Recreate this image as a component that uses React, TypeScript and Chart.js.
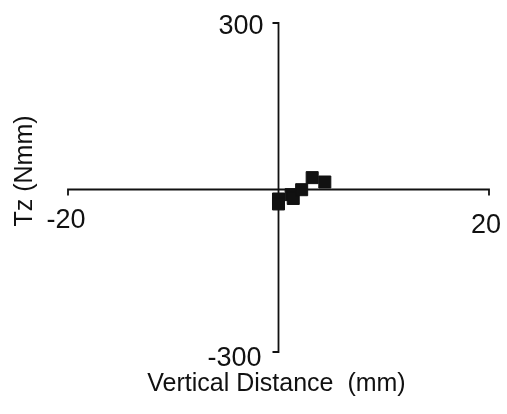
import React, { useEffect, useRef } from "react";
import { Chart, registerables } from "chart.js";

Chart.register(...registerables);

const xValues = [0, 0, 1.2, 1.4, 2.2, 3.2, 4.4];
const yValues = [-21, -30, -13, -20, -4, 18, 10];
const xRange = [-20, 20];
const yRange = [-300, 300];
const xTickLabels = ["-20", "20"];
const yTickLabels = ["-300", "300"];
const xTitle = "Vertical Distance  (mm)";
const yTitle = "Tz (Nmm)";

const FONT = '"Liberation Sans", Arial, sans-serif';

const axesPlugin = {
  id: "crossAxes",
  beforeDatasetsDraw(chart: any) {
    const { ctx, scales } = chart;
    const xs = scales.x;
    const ys = scales.y;
    const x0 = xs.getPixelForValue(0);
    const y0 = ys.getPixelForValue(0) + 2;
    const xL = xs.getPixelForValue(xRange[0]);
    const xR = xs.getPixelForValue(xRange[1]);
    const yT = ys.getPixelForValue(yRange[1]);
    const yB = ys.getPixelForValue(yRange[0]);
    ctx.save();
    ctx.strokeStyle = "#111";
    ctx.lineWidth = 1.8;
    ctx.beginPath();
    // y axis with end ticks pointing left
    ctx.moveTo(x0 - 6, yT);
    ctx.lineTo(x0, yT);
    ctx.lineTo(x0, yB);
    ctx.lineTo(x0 - 6, yB);
    // x axis with end ticks pointing down
    ctx.moveTo(xL, y0 + 6);
    ctx.lineTo(xL, y0);
    ctx.lineTo(xR, y0);
    ctx.lineTo(xR, y0 + 6);
    ctx.stroke();

    ctx.fillStyle = "#111";
    ctx.font = `27px ${FONT}`;
    ctx.textBaseline = "middle";
    ctx.textAlign = "right";
    ctx.fillText(yTickLabels[1], x0 - 15, yT + 4);
    ctx.fillText(yTickLabels[0], x0 - 17, yB + 7);
    ctx.textAlign = "center";
    ctx.fillText(xTickLabels[0], xL - 2, y0 + 31);
    ctx.fillText(xTickLabels[1], xR - 3, y0 + 36);

    ctx.font = `25px ${FONT}`;
    ctx.textAlign = "center";
    ctx.fillText(xTitle, (xL + xR) / 2 - 2, 384);
    ctx.translate(25, 171);
    ctx.rotate(-Math.PI / 2);
    ctx.fillText(yTitle, 0, 0);
    ctx.restore();
  },
};

export default function App() {
  const ref = useRef<HTMLCanvasElement>(null);
  useEffect(() => {
    if (!ref.current) return;
    const chart = new Chart(ref.current, {
      type: "scatter",
      data: {
        datasets: [
          {
            data: xValues.map((x, i) => ({ x, y: yValues[i] })),
            pointStyle: "rect",
            pointRadius: 8.5,
            backgroundColor: "#111",
            borderColor: "#111",
            borderWidth: 1,
          },
        ],
      },
      options: {
        responsive: false,
        animation: false,
        layout: { padding: { left: 68, right: 18, top: 23, bottom: 62 } },
        plugins: { legend: { display: false }, tooltip: { enabled: false } },
        scales: {
          x: { type: "linear", min: xRange[0], max: xRange[1], display: false },
          y: { type: "linear", min: yRange[0], max: yRange[1], display: false },
        },
      },
      plugins: [axesPlugin],
    });
    return () => chart.destroy();
  }, []);
  return (
    <div style={{ position: "absolute", left: 0, top: 0, width: 507, height: 414, background: "#fff" }}>
      <canvas ref={ref} width={507} height={414} />
    </div>
  );
}
